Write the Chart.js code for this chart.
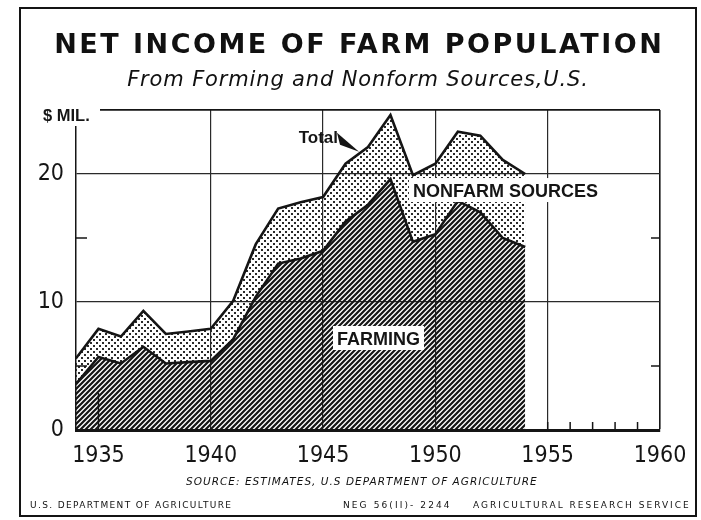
<!DOCTYPE html>
<html>
<head>
<meta charset="utf-8">
<title>Net Income of Farm Population</title>
<script src="https://cdn.jsdelivr.net/npm/chart.js@4.4.1/dist/chart.umd.min.js"></script>
<style>
  html, body { margin: 0; padding: 0; background: #fff; }
  #page { position: relative; width: 701px; height: 520px; overflow: hidden; background: #fff; }
  #frame { position: absolute; left: 19px; top: 7px; width: 674px; height: 506px; border: 2px solid #141414; }
  #plot { position: absolute; left: 0; top: 0; }
  .txt { position: absolute; white-space: nowrap; color: #111; font-family: "DejaVu Sans", sans-serif; }
  #title { left: 19px; width: 678px; top: 30px; text-align: center; font-weight: bold;
           font-size: 27px; line-height: 27px; letter-spacing: 2.5px; padding-left: 2.5px; box-sizing: border-box; }
  #subtitle { left: 19px; width: 678px; top: 69px; text-align: center; font-style: italic;
              font-size: 21px; line-height: 21px; letter-spacing: 0.85px; }
  #source { left: 186px; top: 476px; font-style: italic; font-size: 10.5px; line-height: 10.5px; letter-spacing: 1.02px; }
  #dept { left: 30px; top: 500.5px; font-size: 9px; line-height: 9px; letter-spacing: 1.35px; }
  #neg { left: 343px; top: 500.5px; font-size: 9px; line-height: 9px; letter-spacing: 2.1px; }
  #ars { left: 473px; top: 500.5px; font-size: 9px; line-height: 9px; letter-spacing: 2.0px; }
</style>
</head>
<body>
<div id="page">
  <div id="frame"></div>
  <canvas id="plot" width="701" height="520"></canvas>
  <div class="txt" id="title">NET INCOME OF FARM POPULATION</div>
  <div class="txt" id="subtitle">From Forming and Nonform Sources,U.S.</div>
  <div class="txt" id="source">SOURCE: ESTIMATES, U.S DEPARTMENT OF AGRICULTURE</div>
  <div class="txt" id="dept">U.S. DEPARTMENT OF AGRICULTURE</div>
  <div class="txt" id="neg">NEG 56(II)- 2244</div>
  <div class="txt" id="ars">AGRICULTURAL RESEARCH SERVICE</div>
</div>
<script>
// Net income of the farm population ("$ MIL." on the axis), 1934-1954
const years = [1934, 1935, 1936, 1937, 1938, 1939, 1940, 1941, 1942, 1943, 1944,
               1945, 1946, 1947, 1948, 1949, 1950, 1951, 1952, 1953, 1954];
// income from farming
const farming = [3.6, 5.7, 5.2, 6.5, 5.2, 5.3, 5.4, 7.1, 10.4, 13.0, 13.4,
                 14.0, 16.3, 17.6, 19.6, 14.7, 15.3, 17.9, 17.0, 15.0, 14.3];
// total = farming + nonfarm sources
const total = [5.6, 7.9, 7.3, 9.3, 7.5, 7.7, 7.9, 10.1, 14.5, 17.3, 17.8,
               18.2, 20.8, 22.1, 24.6, 19.9, 20.8, 23.3, 23.0, 21.1, 20.0];

// axis labelling
const xLabelYears = [1935, 1940, 1945, 1950, 1955, 1960];
const xGridYears = [1940, 1945, 1950, 1955];
const yLabelValues = [0, 10, 20];
const yGridValues = [10, 20];
const yMinorTicks = [5, 15];

const X_MIN = 1934, X_MAX = 1960, Y_MAX = 25;
const INK = '#151515';

const canvas = document.getElementById('plot');
const ctx = canvas.getContext('2d');

// diagonal hatching for the farming area
function hatchPattern() {
  const c = document.createElement('canvas');
  c.width = 5; c.height = 5;
  const g = c.getContext('2d');
  g.strokeStyle = INK;
  g.lineWidth = 2.2;
  g.beginPath();
  g.moveTo(-1, 6); g.lineTo(6, -1);
  g.moveTo(-1, 1); g.lineTo(1, -1);
  g.moveTo(4, 6); g.lineTo(6, 4);
  g.stroke();
  return ctx.createPattern(c, 'repeat');
}

// stipple for the nonfarm band
function dotPattern() {
  const c = document.createElement('canvas');
  c.width = 6; c.height = 6;
  const g = c.getContext('2d');
  g.fillStyle = '#2a2a2a';
  g.fillRect(0, 0, 2, 2);
  g.fillRect(3, 3, 2, 2);
  return ctx.createPattern(c, 'repeat');
}

function totalAt(year) {
  for (let i = 0; i < years.length - 1; i++) {
    if (year >= years[i] && year <= years[i + 1]) {
      const t = (year - years[i]) / (years[i + 1] - years[i]);
      return total[i] + t * (total[i + 1] - total[i]);
    }
  }
  return total[total.length - 1];
}

// axis frame details, minor ticks and the in-plot labels
const decorations = {
  id: 'decorations',
  beforeDatasetsDraw(chart) {
    const { ctx: c, chartArea: a, scales: { x } } = chart;
    c.save();
    c.strokeStyle = INK;
    c.lineWidth = 1.5;
    const px = x.getPixelForValue(1935);
    c.beginPath(); c.moveTo(px, a.bottom); c.lineTo(px, a.bottom - 37); c.stroke();
    c.restore();
  },
  afterDraw(chart) {
    const { ctx: c, chartArea: a, scales: { x, y } } = chart;
    c.save();
    c.strokeStyle = INK;
    c.lineWidth = 1.5;
    // minor value ticks on both sides
    yMinorTicks.forEach(v => {
      const py = y.getPixelForValue(v);
      c.beginPath(); c.moveTo(a.left, py); c.lineTo(a.left + 11, py); c.stroke();
      c.beginPath(); c.moveTo(a.right, py); c.lineTo(a.right - 9, py); c.stroke();
    });
    // yearly ticks along the empty stretch of the baseline
    for (let yr = years[years.length - 1] + 1; yr < X_MAX; yr++) {
      const px = x.getPixelForValue(yr);
      c.beginPath(); c.moveTo(px, a.bottom); c.lineTo(px, a.bottom - 8); c.stroke();
    }

    // unit label in the top-left corner
    c.fillStyle = '#fff';
    c.fillRect(a.left - 38, a.top - 8, 62, 24);
    c.fillStyle = INK;
    c.font = 'bold 16.5px "Liberation Sans", Arial, sans-serif';
    c.textAlign = 'left';
    c.textBaseline = 'alphabetic';
    c.fillText('$ MIL.', a.left - 33, a.top + 10.5);

    // "Total" with its pointer wedge
    const tipYear = 1946.6;
    const tx = x.getPixelForValue(tipYear);
    const ty = y.getPixelForValue(totalAt(tipYear)) - 2;
    c.beginPath();
    c.moveTo(tx - 22, ty - 19);
    c.lineTo(tx - 19, ty - 7);
    c.lineTo(tx, ty);
    c.closePath();
    c.fill();
    c.font = 'bold 17px "Liberation Sans", Arial, sans-serif';
    c.textAlign = 'right';
    c.fillText('Total', tx - 21, ty - 9);

    // series labels on white boxes
    c.textAlign = 'left';
    c.font = 'bold 18px "Liberation Sans", Arial, sans-serif';
    const nx = x.getPixelForValue(1949.0), ny = y.getPixelForValue(18.2);
    c.fillStyle = '#fff';
    c.fillRect(nx - 4, ny - 19, c.measureText('NONFARM SOURCES').width + 8, 24);
    c.fillStyle = INK;
    c.fillText('NONFARM SOURCES', nx, ny);

    const fx = x.getPixelForValue(1945.62), fy = y.getPixelForValue(6.64);
    c.fillStyle = '#fff';
    c.fillRect(fx - 4, fy - 19, c.measureText('FARMING').width + 8, 24);
    c.fillStyle = INK;
    c.fillText('FARMING', fx, fy);
    c.restore();
  }
};

const tickFont = { family: '"Liberation Sans Narrow", "DejaVu Sans Condensed", sans-serif', size: 23 };

new Chart(ctx, {
  type: 'line',
  data: {
    datasets: [
      {
        label: 'Farming',
        data: years.map((yr, i) => ({ x: yr, y: farming[i] })),
        fill: 'origin',
        backgroundColor: hatchPattern(),
        borderColor: INK,
        borderWidth: 2.6,
        pointRadius: 0,
        tension: 0
      },
      {
        label: 'Total',
        data: years.map((yr, i) => ({ x: yr, y: total[i] })),
        fill: '-1',
        backgroundColor: dotPattern(),
        borderColor: INK,
        borderWidth: 2.6,
        pointRadius: 0,
        tension: 0
      }
    ]
  },
  options: {
    responsive: false,
    devicePixelRatio: 1,
    animation: false,
    events: [],
    layout: { padding: { left: 0, right: 41, top: 110, bottom: 50 } },
    plugins: { legend: { display: false }, tooltip: { enabled: false }, title: { display: false } },
    scales: {
      x: {
        type: 'linear',
        min: X_MIN,
        max: X_MAX,
        afterFit(s) { s.height = 40; },
        ticks: {
          stepSize: 1,
          autoSkip: false,
          maxRotation: 0,
          padding: 12,
          color: INK,
          font: tickFont,
          callback: v => (xLabelYears.includes(v) ? String(v) : '')
        },
        grid: {
          drawTicks: false,
          color: c => (xGridYears.includes(c.tick.value) ? '#2a2a2a' : (c.tick.value === X_MAX ? INK : 'rgba(0,0,0,0)')),
          lineWidth: c => (c.tick.value === X_MAX ? 1.6 : 1.2)
        },
        border: { display: true, color: INK, width: 3 }
      },
      y: {
        min: 0,
        max: Y_MAX,
        afterFit(s) { s.width = 76; },
        ticks: {
          stepSize: 5,
          padding: 12,
          color: INK,
          font: tickFont,
          callback: v => (yLabelValues.includes(v) ? String(v) : '')
        },
        grid: {
          drawTicks: false,
          color: c => (yGridValues.includes(c.tick.value) ? '#2a2a2a' : (c.tick.value === Y_MAX ? INK : 'rgba(0,0,0,0)')),
          lineWidth: c => (c.tick.value === Y_MAX ? 1.8 : 1.2)
        },
        border: { display: true, color: INK, width: 1.5 }
      }
    }
  },
  plugins: [decorations]
});
</script>
</body>
</html>
